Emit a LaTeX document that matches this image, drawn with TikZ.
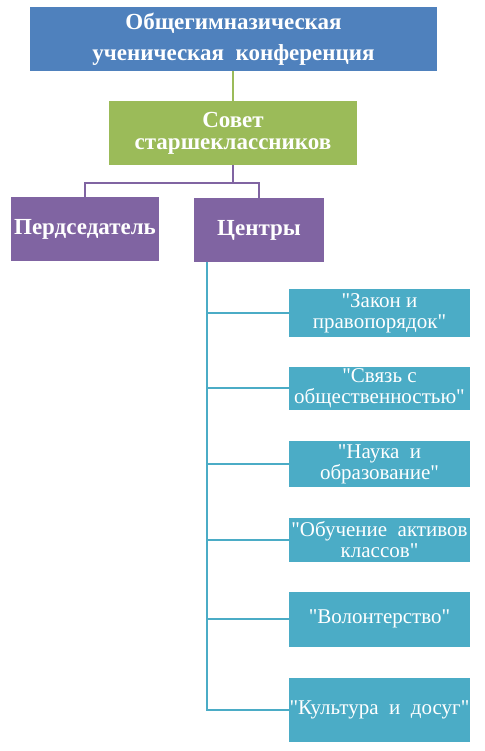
\documentclass[tikz,border=0pt]{standalone}
\usepackage{fontspec}
\setmainfont{Liberation Serif}
\definecolor{cblue}{HTML}{4F81BD}
\definecolor{cgreen}{HTML}{9BBB59}
\definecolor{cpurple}{HTML}{8064A2}
\definecolor{cteal}{HTML}{4BACC6}
\newcommand{\q}{\textquotedbl}
\begin{document}
\begin{tikzpicture}[x=1pt,y=-1pt,
  box/.style={inner sep=0pt, align=center, text=white},
  topbox/.style={box, fill=cblue, minimum width=407pt, minimum height=64pt, font=\fontsize{23}{31}\selectfont\bfseries},
  greenbox/.style={box, fill=cgreen, minimum width=248pt, minimum height=64pt, font=\fontsize{23}{22}\selectfont\bfseries},
  purplebox/.style={box, fill=cpurple, minimum height=64pt, font=\fontsize{23}{22}\selectfont\bfseries},
  tealbox/.style={box, fill=cteal, minimum width=181pt, font=\fontsize{21}{21}\selectfont},
  link/.style={line width=2pt}
]
\useasboundingbox (0,0) rectangle (484,751);
\node[topbox] (top) at (233.5,39) {Общегимназическая\\ученическая\ \ конференция};
\node[greenbox] (sov) at (233,133) {Совет\\старшеклассников};
\node[purplebox, minimum width=148pt] (pres) at (85,229) {Пердседатель};
\node[purplebox, minimum width=130pt] (cen) at (259,230) {Центры};
\node[tealbox, minimum height=48pt] (t1) at (379.5,313) {\q Закон и\\правопорядок\q};
\node[tealbox, minimum height=43pt] (t2) at (379.5,388) {\q Связь с\\общественностью\q};
\node[tealbox, minimum height=46pt] (t3) at (379.5,464) {\q Наука\ \ и\\образование\q};
\node[tealbox, minimum height=44pt] (t4) at (379.5,540) {\q Обучение\ \ активов\\классов\q};
\node[tealbox, minimum height=55pt] (t5) at (379.5,619) {\q Волонтерство\q};
\node[tealbox, minimum height=64pt] (t6) at (379.5,710) {\q Культура\ \ и\ \ досуг\q};
\draw[link, cgreen] (sov.north) -- (sov.north |- top.south);
\coordinate (fork) at ([yshift=-18pt]sov.south);
\draw[link, cpurple] (sov.south) -- (fork) -| (pres.north);
\draw[link, cpurple] (fork) -| (cen.north);
\coordinate (trunk) at ([xshift=13pt]cen.south west);
\draw[link, cteal] (trunk) |- (t6.west);
\foreach \n in {t1,t2,t3,t4,t5}
  \draw[link, cteal] (trunk |- \n.west) -- (\n.west);
\end{tikzpicture}
\end{document}
